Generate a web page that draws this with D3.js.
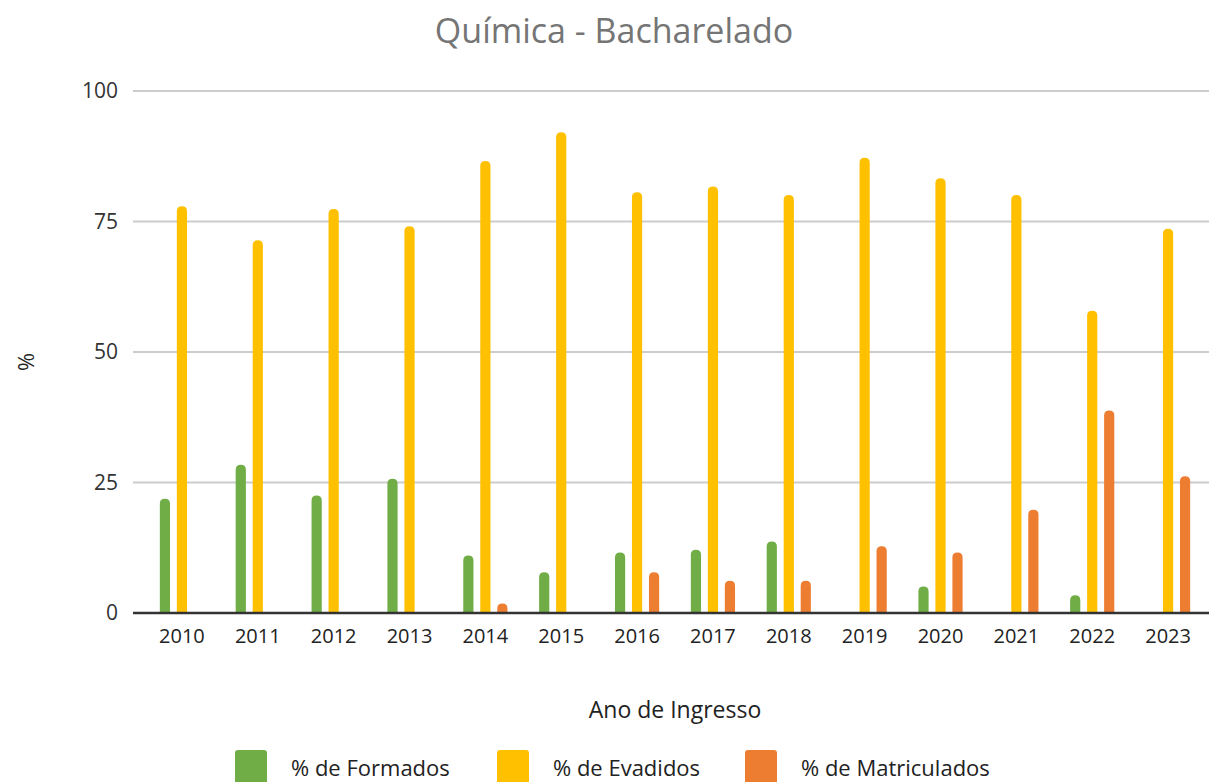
<!DOCTYPE html>
<html>
<head>
<meta charset="utf-8">
<script src="https://cdn.jsdelivr.net/npm/d3@7"></script>
<style>
  html, body { margin: 0; padding: 0; background: #fff; }
  svg { display: block; }
</style>
</head>
<body>
<svg id="chart" width="1209" height="782"></svg>
<script>
const categories = ["2010","2011","2012","2013","2014","2015","2016","2017","2018","2019","2020","2021","2022","2023"];
const seriesNames = ["% de Formados", "% de Evadidos", "% de Matriculados"];
const formados =    [21.9, 28.4, 22.5, 25.7, 11.0, 7.8, 11.6, 12.1, 13.7, null, 5.1, null, 3.4, null];
const evadidos =    [77.9, 71.4, 77.4, 74.1, 86.6, 92.1, 80.6, 81.7, 80.1, 87.2, 83.3, 80.1, 57.9, 73.6];
const matriculados = [null, null, null, null, 1.8, null, 7.8, 6.2, 6.2, 12.8, 11.6, 19.8, 38.8, 26.2];
const yTicks = [0, 25, 50, 75, 100];
const colors = ["#70AD47", "#FFC000", "#ED7D31"];

const seriesValues = [formados, evadidos, matriculados];
const svg = d3.select("#chart");
const font = "'Open Sans', 'Noto Sans', sans-serif";

const plot = { left: 133, right: 1209, top: 91, bottom: 613 };
const x = d3.scaleBand().domain(categories).range([144, 1206]).padding(0);
const xs = d3.scaleBand().domain(seriesNames)
  .range([x.bandwidth() / 2 - 25.5, x.bandwidth() / 2 + 25.5]).paddingInner(0.4).paddingOuter(0.2);
const y = d3.scaleLinear().domain([0, 100]).range([plot.bottom, plot.top]);

// title
svg.append("text").attr("x", 614).attr("y", 43).attr("text-anchor", "middle")
  .attr("font-family", font).attr("font-size", 34).attr("fill", "#757575")
  .text("Química - Bacharelado");

// gridlines
svg.append("g").selectAll("line").data(yTicks.filter(d => d !== 0)).join("line")
  .attr("x1", plot.left).attr("x2", plot.right)
  .attr("y1", d => y(d)).attr("y2", d => y(d))
  .attr("stroke", "#cccccc").attr("stroke-width", 2);

// y axis labels
const yAxis = svg.append("g").attr("transform", `translate(${plot.left},0)`)
  .call(d3.axisLeft(y).tickValues(yTicks).tickSize(0).tickPadding(15));
yAxis.select(".domain").remove();
yAxis.selectAll("text").attr("font-family", font).attr("font-size", 21).attr("fill", "#333");

// bars
const barW = Math.min(xs.bandwidth(), 10.5);
const r = barW / 2;
function barPath(x0, y0, w, h) {
  const rr = Math.min(r, h);
  return `M${x0},${y0 + h} L${x0},${y0 + rr} Q${x0},${y0} ${x0 + rr},${y0} L${x0 + w - rr},${y0} Q${x0 + w},${y0} ${x0 + w},${y0 + rr} L${x0 + w},${y0 + h} Z`;
}
seriesNames.forEach((s, si) => {
  const data = categories.map((c, i) => ({ c, v: seriesValues[si][i] })).filter(d => d.v != null);
  svg.append("g").selectAll("path").data(data).join("path")
    .attr("d", d => {
      const cx = x(d.c) + xs(s) + xs.bandwidth() / 2;
      return barPath(cx - barW / 2, y(d.v), barW, y(0) - y(d.v));
    })
    .attr("fill", colors[si]);
});

// baseline
svg.append("line").attr("x1", plot.left).attr("x2", plot.right)
  .attr("y1", y(0)).attr("y2", y(0)).attr("stroke", "#333").attr("stroke-width", 2.5);

// x axis labels
const xAxis = svg.append("g").attr("transform", `translate(0,${plot.bottom})`)
  .call(d3.axisBottom(x).tickSize(0).tickPadding(16));
xAxis.select(".domain").remove();
xAxis.selectAll("text").attr("font-family", font).attr("font-size", 20).attr("fill", "#222");

// axis titles
svg.append("text").attr("x", 675).attr("y", 718).attr("text-anchor", "middle")
  .attr("font-family", font).attr("font-size", 23).attr("fill", "#222").text("Ano de Ingresso");
svg.append("text").attr("transform", "translate(34,362) rotate(-90)").attr("text-anchor", "middle")
  .attr("font-family", font).attr("font-size", 22).attr("fill", "#222").text("%");

// legend
const legendX = [235, 497, 745];
const lg = svg.append("g").selectAll("g").data(seriesNames).join("g")
  .attr("transform", (d, i) => `translate(${legendX[i]},750)`);
lg.append("rect").attr("width", 32).attr("height", 40).attr("rx", 3).attr("fill", (d, i) => colors[i]);
lg.append("text").attr("x", 56).attr("y", 26).attr("font-family", font).attr("font-size", 22)
  .attr("fill", "#222").text(d => d);
</script>
</body>
</html>
